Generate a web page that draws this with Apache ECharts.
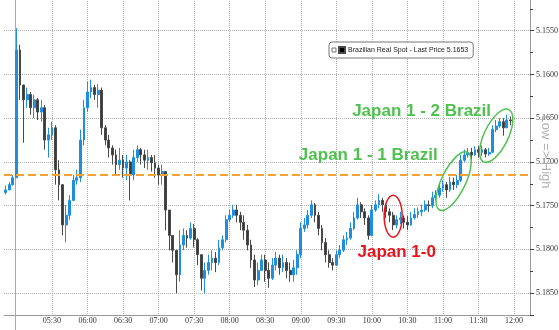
<!DOCTYPE html>
<html>
<head>
<meta charset="utf-8">
<script src="https://cdn.jsdelivr.net/npm/echarts@6/dist/echarts.min.js"></script>
<style>
  html, body { margin: 0; padding: 0; background: #fff; }
  #chart { width: 559px; height: 330px; }
</style>
</head>
<body>
<div id="chart"></div>
<script>
// USD/BRL spot, 3-minute bars 04:51 -> 11:57, axis inverted (Low => High)
const seriesName = 'Brazilian Real Spot - Last Price 5.1653';
const dateLabel = '29 Jun 2026';
const firstOpen = 5.1735;
const refLevel = 5.1715;   // orange dashed level

const closes = [
  5.1732, 5.1726, 5.1718, 5.1572, 5.1612, 5.1629, 5.1623, 5.1638, 5.1629, 5.1643,
  5.1638, 5.1675, 5.1669, 5.1661, 5.1709, 5.1726, 5.1772, 5.1761, 5.1744, 5.1721,
  5.1718, 5.1675, 5.1638, 5.1620, 5.1615, 5.1623, 5.1618, 5.1661, 5.1675, 5.1684,
  5.1692, 5.1703, 5.1698, 5.1707, 5.1700, 5.1715, 5.1695, 5.1686, 5.1692, 5.1698,
  5.1695, 5.1701, 5.1707, 5.1715, 5.1711, 5.1755, 5.1784, 5.1801, 5.1829, 5.1795,
  5.1784, 5.1787, 5.1776, 5.1789, 5.1806, 5.1833, 5.1824, 5.1815, 5.1810, 5.1815,
  5.1798, 5.1789, 5.1766, 5.1761, 5.1755, 5.1761, 5.1769, 5.1778, 5.1795, 5.1812,
  5.1835, 5.1824, 5.1812, 5.1824, 5.1833, 5.1818, 5.1810, 5.1821, 5.1815, 5.1824,
  5.1829, 5.1821, 5.1806, 5.1776, 5.1772, 5.1761, 5.1749, 5.1761, 5.1776, 5.1792,
  5.1806, 5.1815, 5.1818, 5.1806, 5.1801, 5.1789, 5.1787, 5.1776, 5.1764, 5.1749,
  5.1757, 5.1764, 5.1784, 5.1755, 5.1749, 5.1744, 5.1749, 5.1757, 5.1761, 5.1772,
  5.1766, 5.1764, 5.1769, 5.1772, 5.1764, 5.1760, 5.1757, 5.1755, 5.1749, 5.1750,
  5.1741, 5.1738, 5.1730, 5.1726, 5.1732, 5.1723, 5.1726, 5.1721, 5.1698, 5.1692,
  5.1689, 5.1692, 5.1686, 5.1689, 5.1686, 5.1691, 5.1689, 5.1663, 5.1659, 5.1654,
  5.1661, 5.1652, 5.1653
];
const lows = [
  5.1727, 5.1723, 5.1715, 5.1547, 5.1566, 5.1612, 5.1615, 5.1620, 5.1623, 5.1627,
  5.1629, 5.1635, 5.1661, 5.1654, 5.1658, 5.1698, 5.1738, 5.1749, 5.1738, 5.1715,
  5.1709, 5.1663, 5.1629, 5.1608, 5.1606, 5.1612, 5.1611, 5.1615, 5.1658, 5.1669,
  5.1681, 5.1686, 5.1684, 5.1692, 5.1692, 5.1698, 5.1686, 5.1681, 5.1684, 5.1686,
  5.1686, 5.1692, 5.1692, 5.1703, 5.1703, 5.1721, 5.1761, 5.1789, 5.1806, 5.1778,
  5.1776, 5.1778, 5.1769, 5.1771, 5.1787, 5.1806, 5.1815, 5.1806, 5.1801, 5.1803,
  5.1789, 5.1784, 5.1761, 5.1755, 5.1749, 5.1749, 5.1757, 5.1761, 5.1772, 5.1789,
  5.1806, 5.1815, 5.1806, 5.1806, 5.1815, 5.1810, 5.1803, 5.1806, 5.1806, 5.1810,
  5.1815, 5.1812, 5.1801, 5.1769, 5.1764, 5.1755, 5.1744, 5.1747, 5.1757, 5.1772,
  5.1787, 5.1801, 5.1810, 5.1801, 5.1795, 5.1784, 5.1780, 5.1769, 5.1757, 5.1741,
  5.1746, 5.1753, 5.1761, 5.1749, 5.1744, 5.1737, 5.1741, 5.1749, 5.1753, 5.1757,
  5.1761, 5.1757, 5.1761, 5.1762, 5.1757, 5.1753, 5.1752, 5.1749, 5.1744, 5.1744,
  5.1734, 5.1732, 5.1724, 5.1721, 5.1723, 5.1717, 5.1718, 5.1715, 5.1692, 5.1686,
  5.1684, 5.1684, 5.1682, 5.1682, 5.1681, 5.1684, 5.1684, 5.1658, 5.1652, 5.1650,
  5.1650, 5.1646, 5.1648
];
const highs = [
  5.1737, 5.1732, 5.1727, 5.1716, 5.1629, 5.1678, 5.1638, 5.1646, 5.1650, 5.1652,
  5.1654, 5.1686, 5.1695, 5.1675, 5.1726, 5.1744, 5.1784, 5.1792, 5.1766, 5.1744,
  5.1726, 5.1723, 5.1681, 5.1643, 5.1627, 5.1629, 5.1638, 5.1669, 5.1681, 5.1695,
  5.1703, 5.1715, 5.1709, 5.1718, 5.1721, 5.1744, 5.1721, 5.1700, 5.1703, 5.1707,
  5.1709, 5.1711, 5.1718, 5.1726, 5.1726, 5.1778, 5.1801, 5.1815, 5.1850, 5.1837,
  5.1801, 5.1798, 5.1789, 5.1798, 5.1818, 5.1847, 5.1850, 5.1829, 5.1824, 5.1826,
  5.1818, 5.1801, 5.1792, 5.1769, 5.1764, 5.1769, 5.1778, 5.1789, 5.1801, 5.1821,
  5.1843, 5.1841, 5.1824, 5.1837, 5.1844, 5.1835, 5.1824, 5.1829, 5.1826, 5.1833,
  5.1837, 5.1837, 5.1829, 5.1810, 5.1780, 5.1776, 5.1764, 5.1769, 5.1784, 5.1801,
  5.1815, 5.1821, 5.1824, 5.1819, 5.1810, 5.1803, 5.1795, 5.1789, 5.1778, 5.1766,
  5.1764, 5.1772, 5.1789, 5.1785, 5.1757, 5.1753, 5.1757, 5.1764, 5.1769, 5.1778,
  5.1776, 5.1771, 5.1776, 5.1778, 5.1773, 5.1766, 5.1764, 5.1762, 5.1757, 5.1757,
  5.1753, 5.1744, 5.1741, 5.1734, 5.1741, 5.1734, 5.1732, 5.1730, 5.1723, 5.1700,
  5.1695, 5.1698, 5.1693, 5.1695, 5.1693, 5.1695, 5.1693, 5.1690, 5.1666, 5.1661,
  5.1670, 5.1661, 5.1658
];

// time slots every 3 minutes, axis runs a bit past the last bar
const times = [];
for (let m = 4 * 60 + 51; m <= 12 * 60 + 12; m += 3) {
  const h = String(Math.floor(m / 60)).padStart(2, '0');
  const mm = String(m % 60).padStart(2, '0');
  times.push(h + ':' + mm);
}

const lastPrice = closes[closes.length - 1];
const bars = closes.map((c, i) => {
  const o = i === 0 ? firstOpen : closes[i - 1];
  return [o, c, Math.min(lows[i], o, c), Math.max(highs[i], o, c)];
});

const isHalfHour = v => /:(00|30)$/.test(v) && v !== '05:00';
const isQuarter = v => /:(00|15|30|45)$/.test(v);

const GREEN = '#4fc14f';
const RED = '#e8141c';
const gridDot = { type: 'dotted', color: '#b0b0b0', width: 1 };

const chart = echarts.init(document.getElementById('chart'));

chart.setOption({
  animation: false,
  grid: { left: 4, right: 29, top: -13, bottom: 15, outerBoundsMode: 'none', containLabel: false },
  legend: {
    left: 329, top: 42,
    padding: [4, 5, 4, 9],
    icon: 'rect', itemWidth: 6, itemHeight: 6, itemGap: 4,
    backgroundColor: '#fff', borderColor: '#777', borderWidth: 1, borderRadius: 3,
    itemStyle: { color: '#000' },
    textStyle: { fontSize: 7, color: '#222', fontFamily: 'Liberation Sans', padding: [0, 0, 0, -2] },
    data: [seriesName]
  },
  xAxis: {
    type: 'category',
    data: times,
    boundaryGap: true,
    name: dateLabel,
    nameLocation: 'middle',
    nameGap: 10,
    nameTextStyle: { fontSize: 8, color: '#333', fontFamily: 'Liberation Serif', verticalAlign: 'top' },
    axisLine: { lineStyle: { color: '#999' } },
    axisTick: { interval: (i, v) => isQuarter(v), alignWithLabel: true, length: 3, lineStyle: { color: '#666' } },
    axisLabel: { interval: (i, v) => isHalfHour(v), fontSize: 8, color: '#333', margin: 2, fontFamily: 'Liberation Serif' },
    splitLine: { show: true, interval: (i, v) => isHalfHour(v), alignWithLabel: true, lineStyle: gridDot }
  },
  yAxis: {
    type: 'value',
    position: 'right',
    inverse: true,
    min: 5.15,
    max: 5.1875,
    interval: 0.005,
    axisLine: { show: true, lineStyle: { color: '#999' } },
    axisTick: { show: true, length: 4, lineStyle: { color: '#444' } },
    minorTick: { show: true, splitNumber: 2, length: 3, lineStyle: { color: '#444' } },
    axisLabel: {
      fontSize: 8, color: '#333', margin: 6, fontFamily: 'Liberation Serif',
      formatter: v => Math.abs(v * 200 - Math.round(v * 200)) < 1e-6 ? v.toFixed(4) : ''
    },
    splitLine: { show: true, lineStyle: gridDot }
  },
  series: [{
    name: seriesName,
    type: 'candlestick',
    data: bars,
    barWidth: '65%',
    itemStyle: {
      color: '#3a3a3a', borderColor: '#4a4a4a',
      color0: '#1e8fe0', borderColor0: '#1e8fe0',
      borderWidth: 1
    },
    markLine: {
      silent: true,
      symbol: 'none',
      precision: 4,
      animation: false,
      data: [
        { yAxis: refLevel, lineStyle: { color: '#f5a234', width: 2, type: [8, 4] }, label: { show: false } },
        {
          yAxis: lastPrice, lineStyle: { opacity: 0 },
          label: {
            show: true, position: 'end', distance: 2,
            formatter: lastPrice.toFixed(4),
            backgroundColor: '#000', color: '#fff', fontSize: 8, padding: [1, 2],
            fontFamily: 'Liberation Serif'
          }
        }
      ]
    }
  }]
});

// annotations anchored in data space
const notes = [
  { text: 'Japan 1 - 2 Brazil', at: ['10:42', 5.1642], color: GREEN },
  { text: 'Japan 1 - 1 Brazil', at: ['09:57', 5.1692], color: GREEN },
  { text: 'Japan 1-0', at: ['10:21', 5.1803], color: RED }
];
const rings = [
  { at: ['10:18', 5.1762], rx: 9, ry: 21, rot: 0, color: RED },
  { at: ['11:09', 5.1722], rx: 12, ry: 32, rot: -0.45, color: GREEN },
  { at: ['11:45', 5.1670], rx: 12, ry: 29, rot: -0.45, color: GREEN }
];

const px = at => chart.convertToPixel({ seriesIndex: 0 }, at);
const sepA = px(['04:57', refLevel])[0];
const sepB = px(['05:00', refLevel])[0];
const sepX = Math.round((sepA + sepB) / 2) + 0.5;

const graphics = [
  { type: 'line', silent: true, z: 1, shape: { x1: sepX, y1: 0, x2: sepX, y2: 330 }, style: { stroke: '#aaa', lineWidth: 1 } },
  {
    type: 'text', x: 546, y: 152, rotation: -Math.PI / 2, z: 1,
    style: { text: 'Low => High', font: '13px "Liberation Sans"', fill: '#b0b0b0', align: 'center', verticalAlign: 'middle' }
  },
  { type: 'rect', z: 100, shape: { x: 332, y: 48, width: 4, height: 4 }, style: { fill: '#fff', stroke: '#555', lineWidth: 0.8 } }
];
notes.forEach(n => {
  const p = px(n.at);
  graphics.push({
    type: 'text', x: p[0], y: p[1], z: 50,
    style: { text: n.text, font: 'bold 17px "Liberation Sans"', fill: n.color, align: 'center', verticalAlign: 'middle' }
  });
});
rings.forEach(r => {
  const p = px(r.at);
  graphics.push({
    type: 'ellipse', x: p[0], y: p[1], rotation: r.rot, z: 50,
    shape: { cx: 0, cy: 0, rx: r.rx, ry: r.ry },
    style: { fill: 'none', stroke: r.color, lineWidth: 1.5 }
  });
});

chart.setOption({ graphic: graphics });
</script>
</body>
</html>
